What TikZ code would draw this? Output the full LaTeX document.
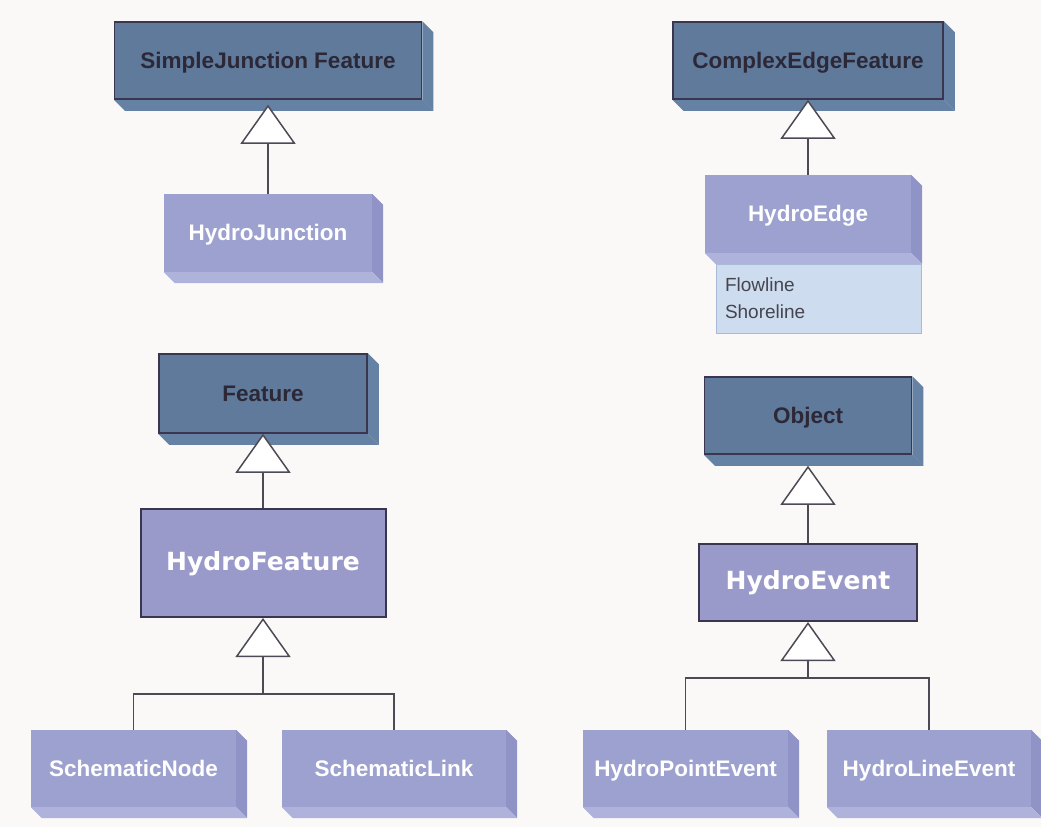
\documentclass[tikz,border=0pt]{standalone}
\usepackage{fontspec}
\setmainfont{Liberation Sans}
\newfontfamily\bigfont{DejaVu Sans}
\usetikzlibrary{arrows.meta,backgrounds,calc}
\definecolor{bg}{HTML}{FAF9F8}
\definecolor{darkfront}{HTML}{5F7A9B}
\definecolor{darkext}{HTML}{6581A3}
\definecolor{darkline}{HTML}{3B3650}
\definecolor{darktext}{HTML}{2C2838}
\definecolor{lightfront}{HTML}{9DA1CF}
\definecolor{lightright}{HTML}{8F93C6}
\definecolor{lightbottom}{HTML}{AFB3DC}
\definecolor{midfill}{HTML}{9A9ACA}
\definecolor{attrfill}{HTML}{CDDCEE}
\definecolor{attrline}{HTML}{A9BAD8}
\definecolor{conn}{HTML}{4E4A55}
\definecolor{attrtext}{HTML}{454550}
\newcommand\extrude[3]{%
  \fill[#2] (#1.north east) -- ++(11,11) -- ($(#1.south east)+(11,11)$) -- (#1.south east) -- cycle;
  \fill[#3] (#1.south west) -- (#1.south east) -- ($(#1.south east)+(11,11)$) -- ($(#1.south west)+(11,11)$) -- cycle;
}
\begin{document}
\begin{tikzpicture}[x=1pt,y=-1pt,
  darkbox/.style={draw=darkline, line width=1.5pt, fill=darkfront, text=darktext,
    font=\fontsize{22.5}{26}\selectfont\bfseries, inner sep=0pt, minimum height=77pt,
    text height=17pt, text depth=2pt},
  lightbox/.style={fill=lightfront, text=white,
    font=\fontsize{22.5}{26}\selectfont\bfseries, inner sep=0pt, minimum height=77pt,
    text height=17pt, text depth=2pt},
  classbox/.style={draw=darkline, line width=2pt, fill=midfill, text=white,
    font=\bigfont\fontsize{25}{28}\selectfont\bfseries, inner sep=0pt,
    text height=18pt, text depth=4pt},
  attrbox/.style={draw=attrline, line width=1pt, fill=attrfill, text=attrtext,
    font=\fontsize{19}{27}\selectfont, align=left, inner xsep=9pt, inner ysep=0pt,
    text width=187pt, minimum height=69pt},
  conline/.style={draw=conn, line width=1.5pt},
  gen/.style={conline, -{Triangle[width=55pt,length=39pt,fill=white,line width=1.5pt]}}
]
\useasboundingbox (0,0) rectangle (1041,827);

% top row
\node[darkbox, minimum width=307pt] (SJF) at (268,60.5) {SimpleJunction Feature};
\node[lightbox, minimum width=208pt, minimum height=78pt] (HJ) at (268,233) {HydroJunction};
\node[darkbox, minimum width=270pt] (CEF) at (808,60.5) {ComplexEdgeFeature};
\node[lightbox, minimum width=206pt, minimum height=78pt] (HE) at (808,214) {HydroEdge};
\node[attrbox] (attrs) at (818.5,298.5) {Flowline\\Shoreline};

% middle
\node[darkbox, minimum width=208pt, minimum height=79pt] (Feat) at (263,393.5) {Feature};
\node[classbox, minimum width=245pt, minimum height=108pt] (HF) at (263,563) {HydroFeature};
\node[darkbox, minimum width=207pt] (Obj) at (808,415.5) {Object};
\node[classbox, minimum width=218pt, minimum height=77pt] (HEv) at (808,582.5) {HydroEvent};

% bottom row
\node[lightbox, minimum width=205pt] (SN) at (133.5,768.5) {SchematicNode};
\node[lightbox, minimum width=224pt] (SL) at (394,768.5) {SchematicLink};
\node[lightbox, minimum width=205pt] (HPE) at (685.5,768.5) {HydroPointEvent};
\node[lightbox, minimum width=204pt] (HLE) at (929,768.5) {HydroLineEvent};

\begin{scope}[on background layer]
  \fill[bg] (0,0) rectangle (1041,827);
  \extrude{SJF}{darkext}{darkext}
  \extrude{CEF}{darkext}{darkext}
  \extrude{Feat}{darkext}{darkext}
  \extrude{Obj}{darkext}{darkext}
  \extrude{HJ}{lightright}{lightbottom}
  \extrude{HE}{lightright}{lightbottom}
  \extrude{SN}{lightright}{lightbottom}
  \extrude{SL}{lightright}{lightbottom}
  \extrude{HPE}{lightright}{lightbottom}
  \extrude{HLE}{lightright}{lightbottom}
\end{scope}

% connectors
\draw[gen] (HJ.north) -- ([yshift=-5pt]SJF.south);
\draw[gen] (HE.north) -- (CEF.south);
\draw[gen] (HF.north) -- (Feat.south);
\draw[gen] (HEv.north) -- ([yshift=-11pt]Obj.south);
\coordinate (j1) at (263,694);
\draw[conline] (SN.north) |- (j1) -| (SL.north);
\draw[gen] (j1) -- (HF.south);
\coordinate (j2) at (808,678);
\draw[conline] (HPE.north) |- (j2) -| (HLE.north);
\draw[gen] (j2) -- (HEv.south);
\end{tikzpicture}
\end{document}
